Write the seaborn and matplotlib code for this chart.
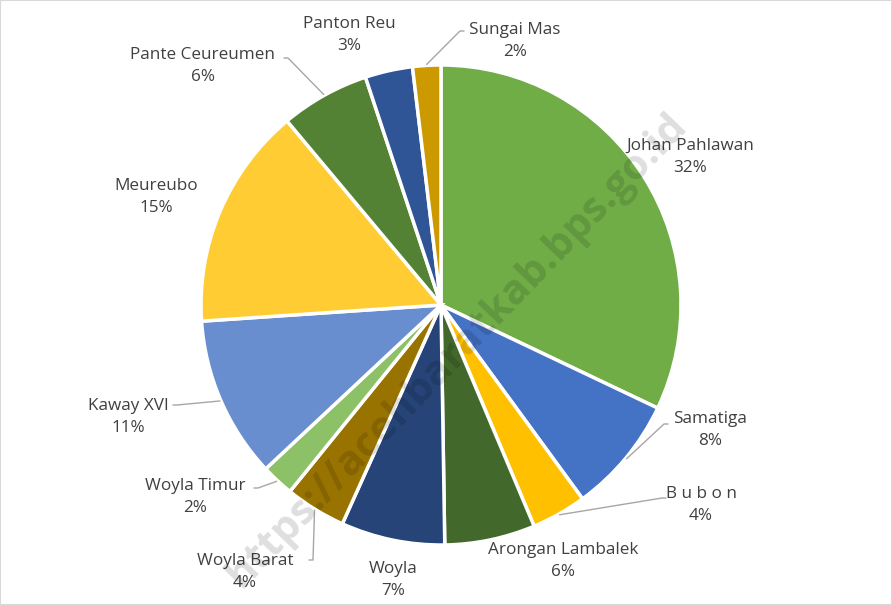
import numpy as np
import matplotlib
matplotlib.use("Agg")
import matplotlib.pyplot as plt
import seaborn as sns

# share of each kecamatan, clockwise from the top
districts = ["Johan Pahlawan", "Samatiga", "B u b o n", "Arongan Lambalek", "Woyla",
             "Woyla Barat", "Woyla Timur", "Kaway XVI", "Meureubo", "Pante Ceureumen",
             "Panton Reu", "Sungai Mas"]
shares = [32.1, 7.9, 3.7, 6.1, 7.0, 4.1, 2.2, 10.9, 15.0, 6.0, 3.2, 1.9]
slice_colors = ["#70AD47", "#4472C4", "#FFC000", "#43682B", "#264478", "#997300",
                "#8CC168", "#698ED0", "#FFCD33", "#548235", "#2F5597", "#CC9A00"]

# label layout in pixels (x, y from top), and leader elbow (None = no leader)
label_pos = [(690, 157), (710, 430), (701, 505), (563, 561), (393, 580), (245, 572),
             (195, 497), (128, 417), (156, 197), (203, 66), (349, 35), (515, 41)]
elbows = [None, (664, 424), (662, 498), None, None, (313, 560),
          (258, 488), (177, 405), None, (288, 58), None, (460, 31)]

W, H = 892, 605
cx, cy, R = 441, 305, 240

sns.set_theme(style="white")
plt.rcParams["font.family"] = ["Open Sans", "DejaVu Sans"]

fig = plt.figure(figsize=(W / 100, H / 100), dpi=100)
ax = fig.add_axes([0, 0, 1, 1])

wedges, _ = ax.pie(shares, colors=sns.color_palette(slice_colors), startangle=90,
                   counterclock=False, center=(cx, H - cy), radius=R,
                   wedgeprops=dict(edgecolor="white", linewidth=2.5))
ax.set_xlim(0, W)
ax.set_ylim(0, H)
ax.set_aspect("equal")
ax.axis("off")

total = sum(shares)
for w, name, val, (lx, ly), elb in zip(wedges, districts, shares, label_pos, elbows):
    ax.text(lx, H - ly, f"{name}\n{round(val / total * 100):.0f}%", ha="center",
            va="center", fontsize=12.3, color="#404040", linespacing=1.55, zorder=5)
    if elb is not None:
        mid = np.deg2rad((w.theta1 + w.theta2) / 2)
        sx, sy = cx + (R + 1) * np.cos(mid), (H - cy) + (R + 1) * np.sin(mid)
        ex, ey = elb[0], H - elb[1]
        end_x = ex + (4 if lx > ex else -4)
        ax.plot([sx, ex, end_x], [sy, ey, ey], color="#A6A6A6", lw=1, zorder=4)

ax.text(457, H - 350, "https://acehbaratkab.bps.go.id", rotation=46, ha="center",
        va="center", fontsize=30, fontweight="bold", color="black", alpha=0.13, zorder=6)

fig.patches.append(plt.Rectangle((0, 0), 1, 1, transform=fig.transFigure, fill=False,
                                 edgecolor="#D9D9D9", linewidth=1.5))

fig.savefig("out.png", dpi=100)
